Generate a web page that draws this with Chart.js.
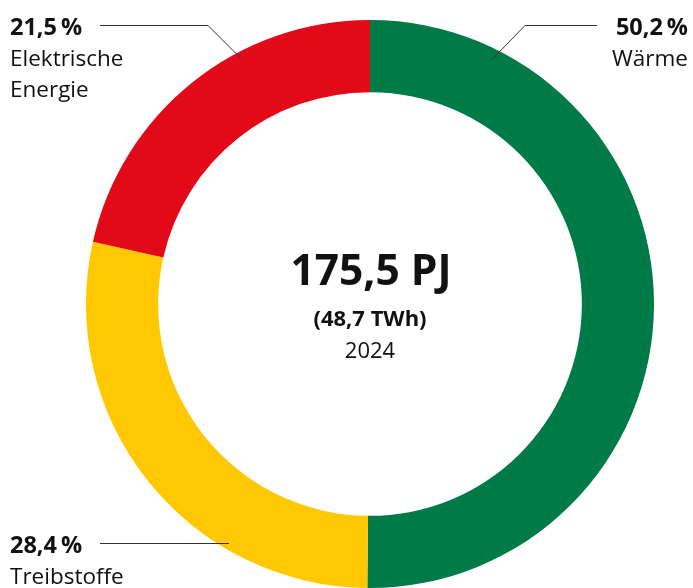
<!DOCTYPE html>
<html>
<head>
<meta charset="utf-8">
<style>
  html, body { margin: 0; padding: 0; background: #fff; }
  #chart { display: block; }
</style>
</head>
<body>
<canvas id="chart" width="693" height="588"></canvas>
<script src="https://cdn.jsdelivr.net/npm/chart.js@4/dist/chart.umd.min.js"></script>
<script>
// data
const categories = [['Wärme'], ['Treibstoffe'], ['Elektrische', 'Energie']];
const shares = [50.2, 28.4, 21.5];
const colors = ['#007a47', '#ffc800', '#e20a19'];
const totalLabel = '175,5 PJ';
const totalSubLabel = '(48,7 TWh)';
const yearLabel = '2024';

const FONT = '"Open Sans", sans-serif';

function formatPct(v) {
    return v.toFixed(1).replace('.', ',') + '\u2009%';
}

// where the callout text and leader lines sit, by slice index
const callouts = [
    {align: 'right', x: 688, y: 35, line: [[597, 25], [525, 25], [492, 59]]},
    {align: 'left', x: 10, y: 553, line: [[100, 543], [229, 543]]},
    {align: 'left', x: 10, y: 35, line: [[100, 25], [208, 25], [241, 58]]},
];

const labelsPlugin = {
    id: 'labels',
    afterDraw(chart) {
        const ctx = chart.ctx;
        const arc = chart.getDatasetMeta(0).data[0];
        const cx = arc.x;

        ctx.save();
        ctx.fillStyle = '#111';
        ctx.textAlign = 'center';
        ctx.textBaseline = 'alphabetic';
        ctx.font = 'bold 42.5px ' + FONT;
        ctx.fillText(totalLabel, cx + 1, 285);
        ctx.font = 'bold 22px ' + FONT;
        ctx.fillText(totalSubLabel, cx, 326);
        ctx.font = '22px ' + FONT;
        ctx.fillText(yearLabel, cx, 358);

        callouts.forEach((c, i) => {
            ctx.strokeStyle = '#333';
            ctx.lineWidth = 1;
            ctx.beginPath();
            c.line.forEach((p, j) => {
                if (j === 0) {
                    ctx.moveTo(p[0], p[1] + 0.5);
                } else {
                    ctx.lineTo(p[0], p[1] + 0.5);
                }
            });
            ctx.stroke();

            ctx.textAlign = c.align;
            ctx.font = 'bold 23.5px ' + FONT;
            ctx.fillText(formatPct(shares[i]), c.x, c.y);
            ctx.font = '22.5px ' + FONT;
            categories[i].forEach((line, k) => {
                ctx.fillText(line, c.x, c.y + 31 * (k + 1));
            });
        });
        ctx.restore();
    }
};

new Chart(document.getElementById('chart'), {
    type: 'doughnut',
    data: {
        labels: categories.map(c => c.join(' ')),
        datasets: [
            {
                data: shares,
                backgroundColor: colors,
                borderWidth: 0,
                hoverOffset: 0,
                offset: 0,
            }
        ]
    },
    options: {
        responsive: false,
        animation: false,
        cutout: '74.6%',
        layout: {
            padding: {left: 86, right: 39, top: 20, bottom: 0}
        },
        plugins: {
            legend: {display: false},
            tooltip: {enabled: false},
        }
    },
    plugins: [labelsPlugin]
});
</script>
</body>
</html>
